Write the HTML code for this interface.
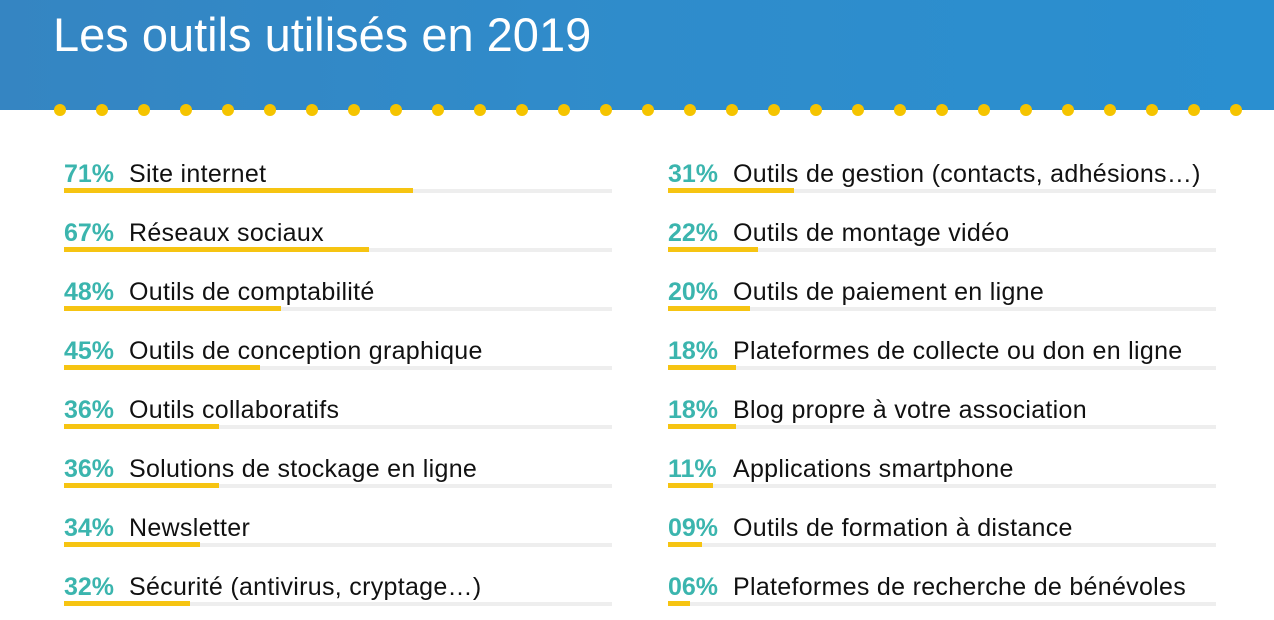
<!DOCTYPE html>
<html><head><meta charset="utf-8"><style>
*{margin:0;padding:0;box-sizing:border-box}
body{width:1274px;height:620px;background:#fff;position:relative;overflow:hidden;font-family:"Liberation Sans",sans-serif}
.hdr{position:absolute;left:0;top:0;width:1274px;height:110px;background:linear-gradient(90deg,#3585c2,#2f8ccb 50%,#2a8fd0)}
.title{position:absolute;left:53px;top:7px;color:#fff;font-size:47px;line-height:56px;white-space:nowrap}
.dot{position:absolute;top:104px;width:12px;height:12px;border-radius:50%;background:#f5c400}
.row{position:absolute;height:40px}
.t{position:absolute;left:0;top:1px;font-size:25px;line-height:28px;white-space:nowrap;color:#111;letter-spacing:0.3px}
.p{color:#3bb5ae;font-weight:bold;display:inline-block;width:65px;letter-spacing:0}
.track{position:absolute;left:0;top:30px;width:548px;height:4px;background:#eeeeee}
.bar{position:absolute;left:0;top:29px;height:5px;background:#f6c412}
</style></head><body>
<div class="hdr"></div>
<div class="title">Les outils utilisés en 2019</div>
<div class="dot" style="left:54px"></div><div class="dot" style="left:96px"></div><div class="dot" style="left:138px"></div><div class="dot" style="left:180px"></div><div class="dot" style="left:222px"></div><div class="dot" style="left:264px"></div><div class="dot" style="left:306px"></div><div class="dot" style="left:348px"></div><div class="dot" style="left:390px"></div><div class="dot" style="left:432px"></div><div class="dot" style="left:474px"></div><div class="dot" style="left:516px"></div><div class="dot" style="left:558px"></div><div class="dot" style="left:600px"></div><div class="dot" style="left:642px"></div><div class="dot" style="left:684px"></div><div class="dot" style="left:726px"></div><div class="dot" style="left:768px"></div><div class="dot" style="left:810px"></div><div class="dot" style="left:852px"></div><div class="dot" style="left:894px"></div><div class="dot" style="left:936px"></div><div class="dot" style="left:978px"></div><div class="dot" style="left:1020px"></div><div class="dot" style="left:1062px"></div><div class="dot" style="left:1104px"></div><div class="dot" style="left:1146px"></div><div class="dot" style="left:1188px"></div><div class="dot" style="left:1230px"></div>

<div class="row" style="left:64px;top:159px"><div class="t"><span class="p">71%</span>Site internet</div><div class="track"></div><div class="bar" style="width:349px"></div></div>
<div class="row" style="left:64px;top:218px"><div class="t"><span class="p">67%</span>Réseaux sociaux</div><div class="track"></div><div class="bar" style="width:305px"></div></div>
<div class="row" style="left:64px;top:277px"><div class="t"><span class="p">48%</span>Outils de comptabilité</div><div class="track"></div><div class="bar" style="width:217px"></div></div>
<div class="row" style="left:64px;top:336px"><div class="t"><span class="p">45%</span>Outils de conception graphique</div><div class="track"></div><div class="bar" style="width:196px"></div></div>
<div class="row" style="left:64px;top:395px"><div class="t"><span class="p">36%</span>Outils collaboratifs</div><div class="track"></div><div class="bar" style="width:155px"></div></div>
<div class="row" style="left:64px;top:454px"><div class="t"><span class="p">36%</span>Solutions de stockage en ligne</div><div class="track"></div><div class="bar" style="width:155px"></div></div>
<div class="row" style="left:64px;top:513px"><div class="t"><span class="p">34%</span>Newsletter</div><div class="track"></div><div class="bar" style="width:136px"></div></div>
<div class="row" style="left:64px;top:572px"><div class="t"><span class="p">32%</span>Sécurité (antivirus, cryptage…)</div><div class="track"></div><div class="bar" style="width:126px"></div></div>

<div class="row" style="left:668px;top:159px"><div class="t"><span class="p">31%</span>Outils de gestion (contacts, adhésions…)</div><div class="track"></div><div class="bar" style="width:126px"></div></div>
<div class="row" style="left:668px;top:218px"><div class="t"><span class="p">22%</span>Outils de montage vidéo</div><div class="track"></div><div class="bar" style="width:90px"></div></div>
<div class="row" style="left:668px;top:277px"><div class="t"><span class="p">20%</span>Outils de paiement en ligne</div><div class="track"></div><div class="bar" style="width:82px"></div></div>
<div class="row" style="left:668px;top:336px"><div class="t"><span class="p">18%</span>Plateformes de collecte ou don en ligne</div><div class="track"></div><div class="bar" style="width:68px"></div></div>
<div class="row" style="left:668px;top:395px"><div class="t"><span class="p">18%</span>Blog propre à votre association</div><div class="track"></div><div class="bar" style="width:68px"></div></div>
<div class="row" style="left:668px;top:454px"><div class="t"><span class="p">11%</span>Applications smartphone</div><div class="track"></div><div class="bar" style="width:45px"></div></div>
<div class="row" style="left:668px;top:513px"><div class="t"><span class="p">09%</span>Outils de formation à distance</div><div class="track"></div><div class="bar" style="width:34px"></div></div>
<div class="row" style="left:668px;top:572px"><div class="t"><span class="p">06%</span>Plateformes de recherche de bénévoles</div><div class="track"></div><div class="bar" style="width:22px"></div></div>
</body></html>
